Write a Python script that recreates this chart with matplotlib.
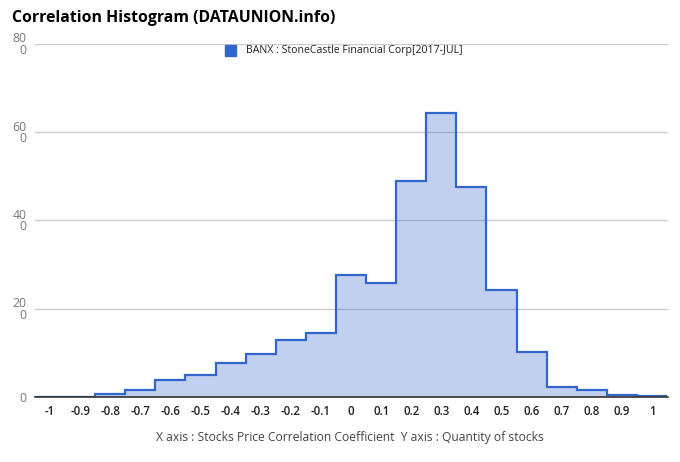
import numpy as np
import matplotlib
matplotlib.use("Agg")
import matplotlib.pyplot as plt
from matplotlib.patches import Rectangle

plt.rcParams['font.family'] = ['Open Sans', 'DejaVu Sans']

centers = [-1.0, -0.9, -0.8, -0.7, -0.6, -0.5, -0.4, -0.3, -0.2, -0.1, 0.0,
           0.1, 0.2, 0.3, 0.4, 0.5, 0.6, 0.7, 0.8, 0.9, 1.0]
counts = [0, 0, 0.6, 1.6, 3.8, 4.9, 7.8, 9.8, 13.0, 14.4, 27.6,
          25.8, 48.9, 64.4, 47.5, 24.2, 10.2, 2.3, 1.65, 0.4, 0.2]
xtick_labels = ['-1', '-0.9', '-0.8', '-0.7', '-0.6', '-0.5', '-0.4', '-0.3', '-0.2', '-0.1', '0',
                '0.1', '0.2', '0.3', '0.4', '0.5', '0.6', '0.7', '0.8', '0.9', '1']
yticks = [0, 20, 40, 60, 80]
ytick_labels = ['0', '20\n0', '40\n0', '60\n0', '80\n0']

title = 'Correlation Histogram (DATAUNION.info)'
series_name = 'BANX : StoneCastle Financial Corp[2017-JUL]'
axis_note = 'X axis : Stocks Price Correlation Coefficient  Y axis : Quantity of stocks'

line_color = '#3366cc'

c = np.array(centers)
edges = np.append(c - 0.05, c[-1] + 0.05)

fig = plt.figure(figsize=(6.8, 4.62), dpi=100)
ax = fig.add_axes([35 / 680, 65 / 462, 633 / 680, 353 / 462])

ax.stairs(counts, edges, fill=True, color=line_color, alpha=0.3, linewidth=0, zorder=3)
ax.stairs(counts, edges, baseline=None, color=line_color, linewidth=1.6, zorder=4)

ax.set_xlim(-1.05, 1.053)
ax.set_ylim(0, 80)
ax.set_xticks(centers)
ax.set_xticklabels(xtick_labels, fontsize=8.3, color='#222222', fontweight='semibold')
ax.set_yticks(yticks)
ax.set_yticklabels(ytick_labels, fontsize=8.8, color='#777777', linespacing=0.85)
ax.tick_params(axis='both', length=0, pad=6)
ax.grid(axis='y', color='#cccccc', linewidth=1, zorder=1)
ax.set_axisbelow(True)
for s in ['top', 'right', 'left']:
    ax.spines[s].set_visible(False)
ax.spines['bottom'].set_color('#333333')
ax.spines['bottom'].set_linewidth(1.2)
ax.spines['bottom'].set_zorder(5)

fig.text(12 / 680, 1 - 18 / 462, title, fontsize=11.4, fontweight='bold', va='center', ha='left', color='#000000')

fig.patches.append(Rectangle((225 / 680, 1 - 56 / 462), 11 / 680, 11 / 462,
                             transform=fig.transFigure, color=line_color, figure=fig))
fig.text(246 / 680, 1 - 50.5 / 462, series_name, fontsize=7.6, va='center', ha='left', color='#222222')

fig.text(350 / 680, 1 - 438 / 462, axis_note, fontsize=8.7, va='center', ha='center', color='#444444')

fig.savefig('out.png', dpi=100)
